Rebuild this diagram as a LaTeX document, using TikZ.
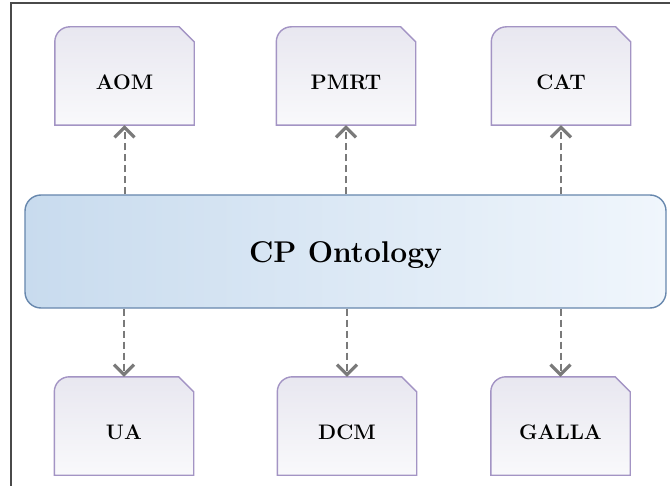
\documentclass[tikz,border=0pt]{standalone}
\usepackage{fontspec}
\setmainfont{Latin Modern Roman}
\usetikzlibrary{arrows.meta}
\definecolor{framegray}{HTML}{4A4A4A}
\definecolor{boxedge}{HTML}{A394C4}
\definecolor{boxtop}{HTML}{E8E7F0}
\definecolor{boxbottom}{HTML}{F9F9FB}
\definecolor{cpedge}{HTML}{6787AD}
\definecolor{cpleft}{HTML}{C8DBEE}
\definecolor{cpright}{HTML}{F0F6FC}
\definecolor{linkgray}{HTML}{7A7A7A}
\tikzset{
  module/.style={minimum width=139bp, minimum height=98bp, inner sep=0pt,
    font=\fontsize{21bp}{23bp}\selectfont\bfseries,
    text height=27bp, text depth=0bp},
  moduleshape/.style={draw=boxedge, line width=1.4bp, top color=boxtop, bottom color=boxbottom},
  core/.style={minimum width=641bp, minimum height=113bp, inner sep=0pt,
    rounded corners=16bp, draw=cpedge, line width=1.4bp,
    left color=cpleft, right color=cpright,
    font=\fontsize{30bp}{33bp}\selectfont\bfseries,
    text height=23bp, text depth=0bp},
  link/.style={draw=linkgray, line width=2bp, dash pattern=on 7bp off 4bp,
    -{Straight Barb[length=10bp,width=20bp,line width=3.2bp]}}
}
\begin{document}
\begin{tikzpicture}[x=1bp,y=-1bp]
\useasboundingbox (0,0) rectangle (670,486);
% frame edges
\draw[framegray, line width=2bp] (11,486) -- (11,3) -- (670,3);

% central ontology
\node[core] (cp) at (345.5,251.5) {CP Ontology};

% module boxes (named nodes carry the text)
\node[module] (aom)   at (124.5,76)  {};
\node[module] (pmrt)  at (346,76)    {};
\node[module] (cat)   at (561,76)    {};
\node[module] (ua)    at (124,426)   {};
\node[module] (dcm)   at (347,426)   {};
\node[module] (galla) at (560.5,426) {};

% tab shape: rounded top-left, clipped top-right
\foreach \n in {aom,pmrt,cat,ua,dcm,galla}{
  \path[moduleshape] (\n.south west) -- ([yshift=-15bp]\n.north west)
    arc[start angle=180, end angle=90, radius=15bp]
    -- ([xshift=-15bp]\n.north east) -- ([yshift=-15bp]\n.north east)
    -- (\n.south east) -- cycle;
}
\node[module] at (aom)   {AOM};
\node[module] at (pmrt)  {PMRT};
\node[module] at (cat)   {CAT};
\node[module] at (ua)    {UA};
\node[module] at (dcm)   {DCM};
\node[module] at (galla) {GALLA};

% dependencies
\foreach \n in {aom,pmrt,cat}{
  \draw[link] (cp.north -| \n) -- (\n.south);
}
\foreach \n in {ua,dcm,galla}{
  \draw[link] (cp.south -| \n) -- (\n.north);
}
\end{tikzpicture}
\end{document}
